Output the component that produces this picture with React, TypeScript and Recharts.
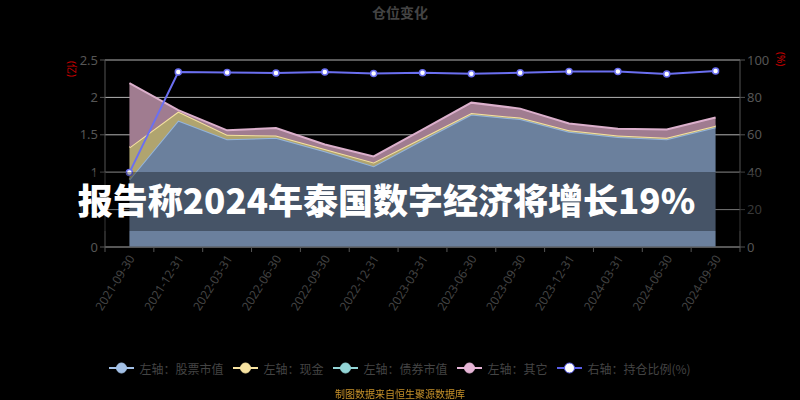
import { ComposedChart, Area, Line, XAxis, YAxis, CartesianGrid } from "recharts";

const dates = [
  "2021-09-30", "2021-12-31", "2022-03-31", "2022-06-30", "2022-09-30", "2022-12-31", "2023-03-31",
  "2023-06-30", "2023-09-30", "2023-12-31", "2024-03-31", "2024-06-30", "2024-09-30",
];
// 亿
const stockValue = [0.9, 1.69, 1.44, 1.46, 1.28, 1.08, 1.43, 1.77, 1.71, 1.54, 1.47, 1.44, 1.6];
const cash = [0.43, 0.12, 0.06, 0.03, 0.03, 0.05, 0.03, 0.02, 0.02, 0.02, 0.02, 0.02, 0.02];
const other = [0.86, 0.02, 0.06, 0.1, 0.06, 0.08, 0.11, 0.14, 0.12, 0.09, 0.09, 0.11, 0.11];
// %
const holdRatio = [39.8, 93.6, 93.3, 93.1, 93.6, 92.8, 93.2, 92.7, 93.2, 93.8, 93.9, 92.5, 94.1];

const leftTicks = [0, 0.5, 1, 1.5, 2, 2.5];
const rightTicks = [0, 20, 40, 60, 80, 100];

const legendItems = [
  { name: "左轴：股票市值", color: "#a3c0e6", border: "#a3c0e6" },
  { name: "左轴：现金", color: "#f7e3a1", border: "#f7e3a1" },
  { name: "左轴：债券市值", color: "#92d4d6", border: "#92d4d6" },
  { name: "左轴：其它", color: "#e6b5d6", border: "#e6b5d6" },
  { name: "右轴：持仓比例(%)", color: "#ffffff", border: "#5a5ee8" },
];

const data = dates.map((d, i) => ({
  date: d,
  stock: stockValue[i],
  cash: cash[i],
  other: other[i],
  ratio: holdRatio[i],
}));

const PLOT_LEFT = 105;
const PLOT_RIGHT = 740;
const BAND = (PLOT_RIGHT - PLOT_LEFT) / dates.length;
const FONT = "'Noto Sans', 'Noto Sans CJK SC', sans-serif";

function DateTick(props: any) {
  const { x, y, payload, index } = props;
  const last = index === dates.length - 1;
  return (
    <g>
      <line x1={x - BAND / 2} x2={x - BAND / 2} y1={y - 7} y2={y - 2} stroke="#555" />
      {last && <line x1={x + BAND / 2} x2={x + BAND / 2} y1={y - 7} y2={y - 2} stroke="#555" />}
      <text
        x={x + 2}
        y={y + 2}
        textAnchor="end"
        fill="#444"
        fontSize={12}
        fontFamily={FONT}
        transform={`rotate(-58, ${x + 2}, ${y + 2})`}
        dominantBaseline="central"
      >
        {payload.value}
      </text>
    </g>
  );
}

export default function App() {
  return (
    <div style={{ position: "fixed", left: 0, top: 0, width: 800, height: 400, background: "#000", fontFamily: FONT }}>
      <div
        style={{
          position: "absolute", top: 2, width: 800, textAlign: "center",
          color: "#444", fontSize: 14, fontWeight: 700, fontFamily: "'Noto Sans CJK SC', sans-serif",
        }}
      >
        仓位变化
      </div>
      <ComposedChart width={800} height={400} data={data} margin={{ top: 60, right: 0, left: 0, bottom: 83 }}>
        <XAxis
          dataKey="date"
          interval={0}
          height={70}
          padding={{ left: BAND / 2, right: BAND / 2 }}
          tickLine={false}
          tickSize={5}
          tickMargin={2}
          stroke="#555"
          tick={<DateTick />}
        />
        <YAxis
          yAxisId="left"
          width={105}
          domain={[0, 2.5]}
          ticks={leftTicks}
          stroke="#555"
          tickSize={5}
          tick={{ fill: "#555", fontSize: 13 }}
        />
        <YAxis
          yAxisId="right"
          orientation="right"
          width={60}
          domain={[0, 100]}
          ticks={rightTicks}
          stroke="#555"
          tickSize={5}
          tick={{ fill: "#555", fontSize: 13 }}
        />
        <Area yAxisId="left" type="linear" dataKey="stock" stackId="a" stroke="#94b4dc" strokeWidth={2}
          fill="#6b809d" fillOpacity={1} isAnimationActive={false} />
        <Area yAxisId="left" type="linear" dataKey="cash" stackId="a" stroke="#f5e2a0" strokeWidth={2}
          fill="#b0a46f" fillOpacity={1} isAnimationActive={false} />
        <Area yAxisId="left" type="linear" dataKey="other" stackId="a" stroke="#dcb0cc" strokeWidth={2}
          fill="#a07c90" fillOpacity={1} isAnimationActive={false} />
        <CartesianGrid yAxisId="left" vertical={false} stroke="rgba(255,255,255,0.7)" />
        <Line yAxisId="right" type="linear" dataKey="ratio" stroke="#6b6ff0" strokeWidth={2}
          dot={{ r: 3, fill: "#fff", stroke: "#6b6ff0", strokeWidth: 1.5 }} isAnimationActive={false} />
      </ComposedChart>
      <div style={{ position: "absolute", left: 68, top: 61, color: "#c00", fontSize: 10, transform: "rotate(90deg)", transformOrigin: "left top", marginLeft: 12 }}>
        (亿)
      </div>
      <div style={{ position: "absolute", left: 776, top: 52, color: "#c00", fontSize: 10, transform: "rotate(90deg)", transformOrigin: "left top", marginLeft: 12 }}>
        (%)
      </div>
      <div
        style={{
          position: "absolute", top: 172, left: 0, width: 800, height: 59, background: "rgba(0,0,0,0.34)",
          display: "flex", alignItems: "center", justifyContent: "center",
        }}
      >
        <span
          style={{
            color: "#fff", fontSize: 35, fontWeight: 900, fontFamily: "'Noto Sans CJK SC', sans-serif",
            marginRight: 27, marginTop: -6, lineHeight: "40px",
          }}
        >
          报告称2024年泰国数字经济将增长19%
        </span>
      </div>
      <div style={{ position: "absolute", top: 359, left: 0, width: 800, display: "flex", justifyContent: "center", gap: 10 }}>
        {legendItems.map((it) => (
          <div key={it.name} style={{ display: "flex", alignItems: "center", height: 18 }}>
            <svg width={25} height={14}>
              <line x1={0} x2={25} y1={7} y2={7} stroke={it.border} strokeWidth={2} />
              <circle cx={12.5} cy={7} r={5} fill={it.color} stroke={it.border} strokeWidth={1} />
            </svg>
            <span style={{ color: "#444", fontSize: 12, marginLeft: 5, fontFamily: "'Noto Sans CJK SC', sans-serif" }}>{it.name}</span>
          </div>
        ))}
      </div>
      <div style={{ position: "absolute", top: 386, width: 800, textAlign: "center", color: "#c8922a", fontSize: 10, fontFamily: "'Noto Sans CJK SC', sans-serif" }}>
        制图数据来自恒生聚源数据库
      </div>
    </div>
  );
}
